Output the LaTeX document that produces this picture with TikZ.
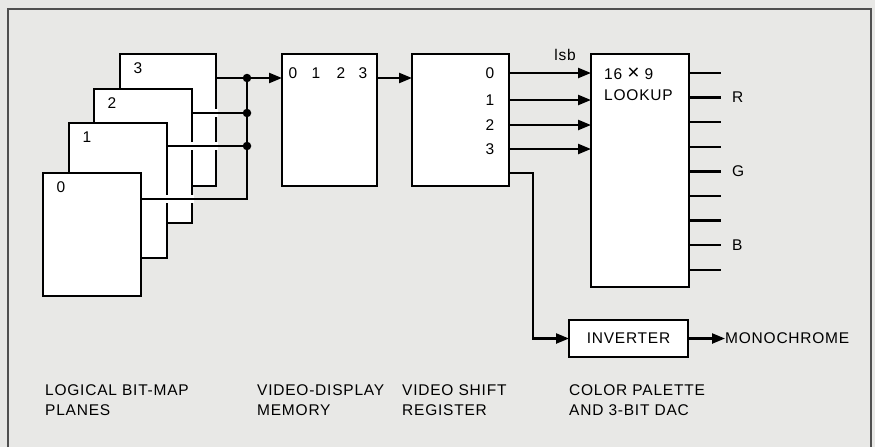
\documentclass[tikz,border=0pt]{standalone}
\usepackage{fontspec}
\setmainfont[LetterSpace=5]{Liberation Sans}
\usetikzlibrary{arrows.meta}

\begin{document}
\begin{tikzpicture}[x=1pt,y=-1pt,
  lbl/.style={font=\fontsize{15.5}{20}\selectfont, inner sep=0pt},
  box/.style={draw, fill=white, line width=2.3pt, inner sep=0pt, outer sep=0pt,
    anchor=north west, font=\fontsize{15.5}{20}\selectfont},
  wire/.style={line width=2.3pt},
  arr/.style={wire, -{Triangle[length=13pt,width=10pt]}},
  dot/.style={circle, fill=black, inner sep=0pt, minimum size=8.5pt}]

% Colours
\definecolor{paper}{HTML}{E8E8E6}
\definecolor{frameGray}{HTML}{505050}

% Background and frame
\fill[paper] (0,0) rectangle (875,447);
\draw[frameGray, line width=1.5pt] (8,447) -- (8,9) -- (871,9) -- (871,447);

% Bit-map planes, back to front
\node[box, minimum width=96pt, minimum height=132pt] (plane3) at (120,54) {};
\node[box, minimum width=98pt, minimum height=134pt] (plane2) at (94,89) {};
\node[box, minimum width=98pt, minimum height=135pt] (plane1) at (69,123) {};
\node[box, minimum width=98pt, minimum height=123pt] (plane0) at (43,173) {};
\foreach \i in {0,...,3}
  \node[lbl] (num\i) at ([shift={(18,14)}]plane\i.north west) {\i};

% Bus junctions
\coordinate (j3) at (247,78);
\coordinate (j2) at (247,113);
\coordinate (j1) at (247,146);
\coordinate (j0) at (247,199);

% Gaps where the wires cross the plane edges
\foreach \p/\j in {plane3/j2,plane3/j1,plane2/j1,plane2/j0,plane1/j0}
  \fill[white] (\p.east |- \j) ++(-1.8,-4) rectangle ++(3.6,8);

% Plane outputs
\foreach \i in {1,2,3}
  \draw[wire] (plane\i.east |- j\i) -- (j\i);
\draw[wire] (plane0.east |- j0) -- (j0) -- (j3);
\foreach \i in {1,2,3}
  \node[dot] (d\i) at (j\i) {};

% Video-display memory
\node[box, minimum width=95pt, minimum height=132pt] (mem) at (282,54) {};
\foreach \i/\x in {0/293,1/316,2/341,3/363}
  \node[lbl] (m\i) at (\x,73) {\i};
\draw[arr] (j3) -- (mem.west |- j3);

% Video shift register
\node[box, minimum width=97pt, minimum height=132pt] (sr) at (412,54) {};
\foreach \i/\y in {0/73,1/100,2/125,3/149}
  \node[lbl] (s\i) at (490,\y) {\i};
\draw[arr] (mem.east |- j3) -- (sr.west |- j3);

% Colour lookup
\node[box, minimum width=98pt, minimum height=233pt] (lut) at (591,54) {};
\node[lbl, anchor=west] (lutA) at (604,74) {16 {\fontsize{21}{20}\selectfont×} 9};
\node[lbl, anchor=west] (lutB) at (604,95) {LOOKUP};
\node[lbl] (lsb) at (565,55) {lsb};
\foreach \i in {0,...,3}
  \draw[arr] (sr.east |- s\i) -- (lut.west |- s\i);

% DAC outputs
\foreach \i in {0,...,8}
  \coordinate (o\i) at (721,{73+24.6*\i});
\foreach \i in {0,...,8}
  \draw[wire] (lut.east |- o\i) -- (o\i);
\node[lbl, anchor=west] (red) at ([xshift=11pt]o1) {R};
\node[lbl, anchor=west] (green) at ([xshift=11pt]o4) {G};
\node[lbl, anchor=west] (blue) at ([xshift=11pt]o7) {B};

% Inverter
\node[box, minimum width=119pt, minimum height=37pt] (inv) at (569,320) {INVERTER};
\node[lbl, anchor=west] (mono) at (725,338.5) {MONOCHROME};
\coordinate (bend) at (533,173);
\draw[arr] (sr.east |- bend) -- (bend) |- (inv.west);
\draw[arr] (inv.east |- mono) -- (mono.west);

% Captions
\node[lbl, anchor=west, align=left] (capPlanes) at (45,400) {LOGICAL BIT-MAP\\PLANES};
\node[lbl, anchor=west, align=left] (capMem) at (257,400) {VIDEO-DISPLAY\\MEMORY};
\node[lbl, anchor=west, align=left] (capShift) at (402,400) {VIDEO SHIFT\\REGISTER};
\node[lbl, anchor=west, align=left] (capDac) at (569,400) {COLOR PALETTE\\AND 3-BIT DAC};
\end{tikzpicture}
\end{document}
